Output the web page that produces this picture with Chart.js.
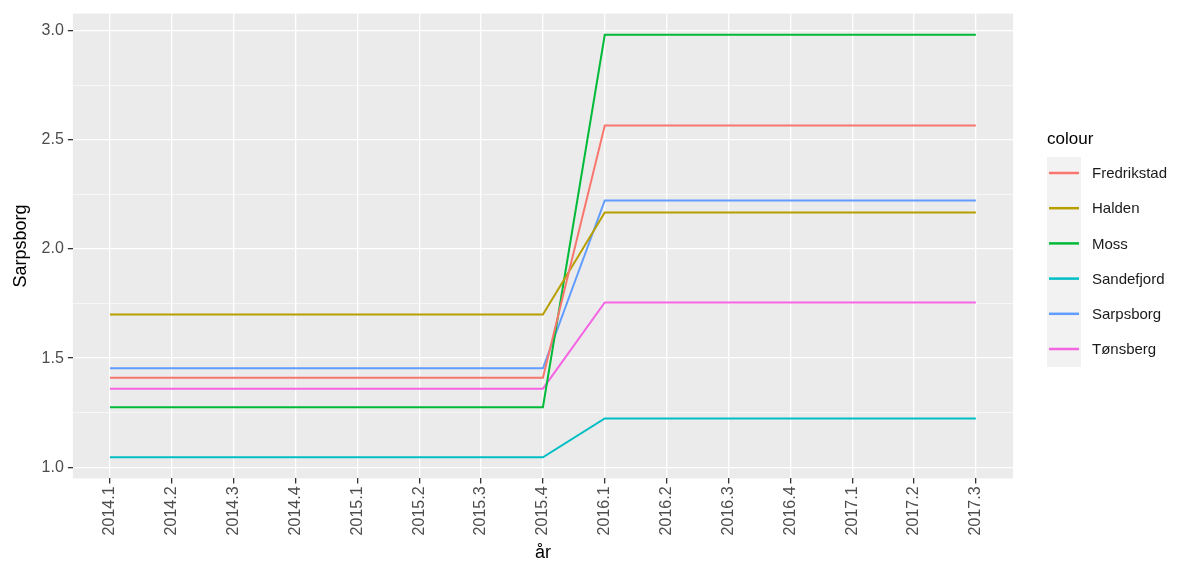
<!DOCTYPE html>
<html>
<head>
<meta charset="utf-8">
<script src="https://cdn.jsdelivr.net/npm/chart.js@4/dist/chart.umd.min.js"></script>
<style>
  html, body { margin: 0; padding: 0; background: #fff; }
  #wrap { width: 1184px; height: 567px; }
</style>
</head>
<body>
<div id="wrap"><canvas id="lineChart"></canvas></div>
<script>
var quarters = ["2014.1", "2014.2", "2014.3", "2014.4", "2015.1", "2015.2", "2015.3",
    "2015.4", "2016.1", "2016.2", "2016.3", "2016.4", "2017.1", "2017.2", "2017.3"];

var fredrikstad = [1.41, 1.41, 1.41, 1.41, 1.41, 1.41, 1.41, 1.41, 2.565, 2.565, 2.565, 2.565, 2.565, 2.565, 2.565];
var halden      = [1.70, 1.70, 1.70, 1.70, 1.70, 1.70, 1.70, 1.70, 2.167, 2.167, 2.167, 2.167, 2.167, 2.167, 2.167];
var moss        = [1.275, 1.275, 1.275, 1.275, 1.275, 1.275, 1.275, 1.275, 2.98, 2.98, 2.98, 2.98, 2.98, 2.98, 2.98];
var sandefjord  = [1.046, 1.046, 1.046, 1.046, 1.046, 1.046, 1.046, 1.046, 1.224, 1.224, 1.224, 1.224, 1.224, 1.224, 1.224];
var sarpsborg   = [1.453, 1.453, 1.453, 1.453, 1.453, 1.453, 1.453, 1.453, 2.222, 2.222, 2.222, 2.222, 2.222, 2.222, 2.222];
var tonsberg    = [1.36, 1.36, 1.36, 1.36, 1.36, 1.36, 1.36, 1.36, 1.755, 1.755, 1.755, 1.755, 1.755, 1.755, 1.755];

var seriesNames = ["Fredrikstad", "Halden", "Moss", "Sandefjord", "Sarpsborg", "Tønsberg"];
var seriesData = [fredrikstad, halden, moss, sandefjord, sarpsborg, tonsberg];
var seriesColors = ["#F8766D", "#B79F00", "#00BA38", "#00BFC4", "#619CFF", "#F564E3"];

var datasets = seriesNames.map(function (name, i) {
    return {
        label: name,
        data: seriesData[i].map(function (v, j) { return { x: j, y: v }; }),
        borderColor: seriesColors[i],
        backgroundColor: seriesColors[i],
        borderWidth: 2,
        pointRadius: 0,
        tension: 0,
    };
});

function isMajor(v) {
    return Math.round(v * 100) % 50 === 0;
}

// grey panel behind the plot
var panelPlugin = {
    id: "panel",
    beforeDraw: function (chart) {
        var ctx = chart.ctx;
        var a = chart.chartArea;
        ctx.save();
        ctx.fillStyle = "#fff";
        ctx.fillRect(0, 0, chart.width, chart.height);
        ctx.fillStyle = "#EBEBEB";
        ctx.fillRect(a.left, a.top, a.right - a.left, a.bottom - a.top);
        ctx.restore();
    },
};

// ggplot style legend on the right: title, grey key column, line keys
var legendPlugin = {
    id: "ggLegend",
    afterDraw: function (chart) {
        var ctx = chart.ctx;
        var x0 = chart.chartArea.right + 34;
        var y0 = 173, step = 35.2;
        ctx.save();
        ctx.fillStyle = "#000";
        ctx.font = "17px 'Liberation Sans'";
        ctx.textBaseline = "alphabetic";
        ctx.fillText("colour", x0, 144);

        ctx.fillStyle = "#F2F2F2";
        ctx.fillRect(x0, y0 - 16, 34, step * (seriesNames.length - 1) + 34);

        ctx.font = "15px 'Liberation Sans'";
        ctx.textBaseline = "middle";
        seriesNames.forEach(function (name, i) {
            var y = y0 + i * step;
            ctx.strokeStyle = seriesColors[i];
            ctx.lineWidth = 2.5;
            ctx.beginPath();
            ctx.moveTo(x0 + 2, y);
            ctx.lineTo(x0 + 32, y);
            ctx.stroke();
            ctx.fillStyle = "#1a1a1a";
            ctx.fillText(name, x0 + 45, y + 1);
        });
        ctx.restore();
    },
};

new Chart(document.getElementById("lineChart").getContext("2d"), {
    type: "line",
    data: { datasets: datasets },
    plugins: [panelPlugin, legendPlugin],
    options: {
        responsive: true,
        maintainAspectRatio: false,
        animation: false,
        layout: { padding: { top: 8, right: 171, left: 10, bottom: 3 } },
        plugins: {
            tooltip: { enabled: false },
            legend: { display: false },
        },
        scales: {
            x: {
                type: "linear",
                min: -0.6,
                max: quarters.length - 1 + 0.6,
                grid: {
                    color: "#fff",
                    lineWidth: 1.3,
                    tickColor: "#333",
                    tickLength: 5,
                },
                border: { display: false },
                afterBuildTicks: function (scale) {
                    scale.ticks = quarters.map(function (q, i) { return { value: i }; });
                },
                ticks: {
                    minRotation: 90,
                    maxRotation: 90,
                    autoSkip: false,
                    padding: 3,
                    color: "#4D4D4D",
                    font: { family: "Liberation Sans", size: 16 },
                    callback: function (v) { return quarters[v]; },
                },
                title: {
                    display: true,
                    text: "år",
                    color: "#000",
                    font: { family: "Liberation Sans", size: 18 },
                    padding: { top: 4, bottom: 0 },
                },
            },
            y: {
                min: 0.949,
                max: 3.077,
                afterBuildTicks: function (scale) {
                    var t = [];
                    for (var v = 1.0; v <= 3.0001; v += 0.25) t.push({ value: Math.round(v * 100) / 100 });
                    scale.ticks = t;
                },
                grid: {
                    color: "#fff",
                    lineWidth: function (c) { return c.tick && isMajor(c.tick.value) ? 1.3 : 0.6; },
                    tickColor: function (c) { return c.tick && isMajor(c.tick.value) ? "#333" : "rgba(0,0,0,0)"; },
                    tickLength: 5,
                },
                border: { display: false },
                ticks: {
                    padding: 4,
                    color: "#4D4D4D",
                    font: { family: "Liberation Sans", size: 16 },
                    callback: function (v) { return isMajor(v) ? v.toFixed(1) : ""; },
                },
                title: {
                    display: true,
                    text: "Sarpsborg",
                    color: "#000",
                    font: { family: "Liberation Sans", size: 18 },
                    padding: { top: 0, bottom: 6 },
                },
            },
        },
    },
});
</script>
</body>
</html>
